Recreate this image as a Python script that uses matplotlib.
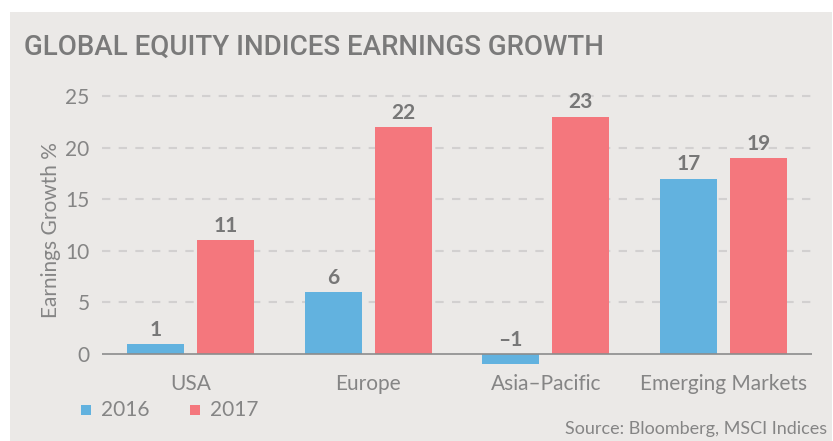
import matplotlib
matplotlib.use("Agg")
import matplotlib.pyplot as plt
from matplotlib.patches import Rectangle
import numpy as np

categories = ["USA", "Europe", "Asia-Pacific", "Emerging Markets"]
values_2016 = [1, 6, -1, 17]
values_2017 = [11, 22, 23, 19]
series_names = ["2016", "2017"]
yticks = [0, 5, 10, 15, 20, 25]

BG = "#EBE9E7"
BLUE = "#62B2DF"
RED = "#F4777D"
TXT = "#858585"
FONT = "Lato"
LW = "normal"

W, H = 833, 441
fig = plt.figure(figsize=(W / 100, H / 100), dpi=100)
fig.patch.set_facecolor("white")
fig.add_artist(Rectangle((10 / W, 0), 822 / W, (H - 12) / H, transform=fig.transFigure,
                         facecolor=BG, edgecolor="none", zorder=0))

ymin, ymax = -1.5, 25.5
px_per_unit = 10.32
y0_px = H - 354
ax_bottom = (y0_px + ymin * px_per_unit) / H
ax_height = (ymax - ymin) * px_per_unit / H
ax = fig.add_axes([102 / W, ax_bottom, 710 / W, ax_height])
ax.set_facecolor("none")
ax.set_xlim(-0.5, 3.5)
ax.set_ylim(ymin, ymax)

x = np.arange(len(categories))
bw = 0.322
off = 0.197
b1 = ax.bar(x - off, values_2016, bw, color=BLUE, zorder=3, label=series_names[0])
b2 = ax.bar(x + off, values_2017, bw, color=RED, zorder=3, label=series_names[1])

for t in yticks[1:]:
    ax.axhline(t, color="#D2D0D0", lw=1.5, ls=(0, (4, 4)), zorder=1)
ax.axhline(0, color="#8C8C8C", lw=1.2, zorder=4)

for rects, vals in ((b1, values_2016), (b2, values_2017)):
    for r, v in zip(rects, vals):
        cx = r.get_x() + r.get_width() / 2
        yy = max(v, 0)
        ax.annotate(str(v).replace("-", "\u2013"), (cx, yy), xytext=(0, 3), textcoords="offset points",
                    ha="center", va="bottom", fontsize=15, color="#777777",
                    family=FONT, fontweight="bold")

for s in ax.spines.values():
    s.set_visible(False)
ax.set_yticks(yticks)
ax.set_yticklabels([str(t) for t in yticks], family=FONT, fontweight=LW, fontsize=15, color=TXT)
ax.set_xticks(x)
ax.set_xticklabels([c.replace("-", "\u2013") for c in categories], family=FONT, fontweight=LW,
                   fontsize=15, color=TXT)
ax.tick_params(axis="y", length=0, pad=9)
ax.tick_params(axis="x", length=0, pad=3)
ax.set_ylabel("Earnings Growth %", family=FONT, fontweight=LW, fontsize=15, color=TXT, labelpad=3)

fig.text(24 / W, 1 - 47 / H, "GLOBAL EQUITY INDICES EARNINGS GROWTH", family="Roboto",
         fontweight="medium", fontsize=20, color="#7A7A7A", va="center", ha="left")

# legend
fig.add_artist(Rectangle((81 / W, 1 - 415 / H), 10 / W, 10 / H, transform=fig.transFigure,
                         facecolor=BLUE, edgecolor="none"))
fig.text(101 / W, 1 - 410.5 / H, series_names[0], family=FONT, fontweight=LW, fontsize=15,
         color=TXT, va="center")
fig.add_artist(Rectangle((190 / W, 1 - 415 / H), 10 / W, 10 / H, transform=fig.transFigure,
                         facecolor=RED, edgecolor="none"))
fig.text(210 / W, 1 - 410.5 / H, series_names[1], family=FONT, fontweight=LW, fontsize=15,
         color=TXT, va="center")

fig.text(827 / W, 1 - 429 / H, "Source: Bloomberg, MSCI Indices", family=FONT, fontweight=LW,
         fontsize=13, color=TXT, ha="right", va="center")

fig.savefig("out.png", dpi=100, facecolor=fig.get_facecolor())
